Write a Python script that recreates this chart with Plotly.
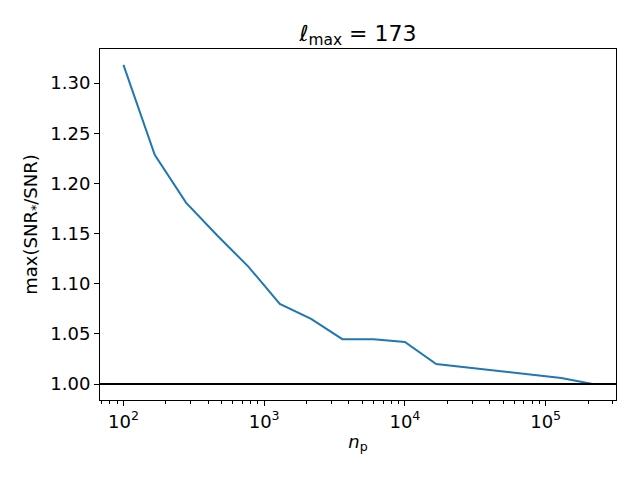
import numpy as np
import plotly.graph_objects as go

# data
n_p = [10 ** (2 + 2 * k / 9) for k in range(16)]
ratio = [1.318, 1.2285, 1.1808, 1.148, 1.1168, 1.0798, 1.0649, 1.0447,
         1.0446, 1.042, 1.0199, 1.0165, 1.0128, 1.0093, 1.0060, 1.000]
ref_level = 1.0
title_text = "<i>ℓ</i><sub>max</sub> = 173"
xlabel = "<i>n</i><sub>p</sub>"
ylabel = "max(SNR<sub>*</sub>/SNR)"
xtick_vals = [1e2, 1e3, 1e4, 1e5]
xtick_text = ["10<sup>2</sup>", "10<sup>3</sup>", "10<sup>4</sup>", "10<sup>5</sup>"]
ytick_vals = [1.00, 1.05, 1.10, 1.15, 1.20, 1.25, 1.30]
ytick_text = ["1.00", "1.05", "1.10", "1.15", "1.20", "1.25", "1.30"]
minor_vals = [m * 10 ** e for e in range(1, 6) for m in range(2, 10)]

font = "DejaVu Sans"

fig = go.Figure()
fig.add_trace(go.Scatter(x=n_p, y=ratio, mode="lines",
                         line=dict(color="#1f77b4", width=2), showlegend=False))
fig.add_hline(y=ref_level, line=dict(color="black", width=2))

lx = np.log10(n_p)
span = lx.max() - lx.min()
yr = max(ratio) - min(ratio)

# page body has an 8px margin; compensate so the plot lands where the reference has it
fig.update_layout(
    width=640, height=480,
    margin=dict(l=92, r=32, t=41, b=88),
    paper_bgcolor="white", plot_bgcolor="white",
    font=dict(family=font, size=18, color="black"),
    title=dict(text=title_text, x=(92 + 516 / 2) / 640, xanchor="center",
               y=1 - 25 / 480, yanchor="middle", font=dict(size=22, family=font)),
    xaxis=dict(type="log", range=[lx.min() - 0.05 * span, lx.max() + 0.05 * span],
               showline=True, linecolor="black", linewidth=1, mirror=True,
               ticks="outside", ticklen=5, tickwidth=1, tickcolor="black",
               tickvals=xtick_vals, ticktext=xtick_text, showgrid=False, zeroline=False,
               minor=dict(ticks="outside", ticklen=3, tickwidth=1, tickcolor="black",
                          tickvals=minor_vals, showgrid=False),
               title=dict(text=xlabel, standoff=4, font=dict(size=18))),
    yaxis=dict(range=[min(ratio) - 0.05 * yr, max(ratio) + 0.05 * yr],
               showline=True, linecolor="black", linewidth=1, mirror=True,
               ticks="outside", ticklen=5, tickwidth=1, tickcolor="black",
               tickvals=ytick_vals, ticktext=ytick_text, showgrid=False, zeroline=False,
               title=dict(text=ylabel, standoff=8, font=dict(size=18))),
)

fig.write_html("out.html")
